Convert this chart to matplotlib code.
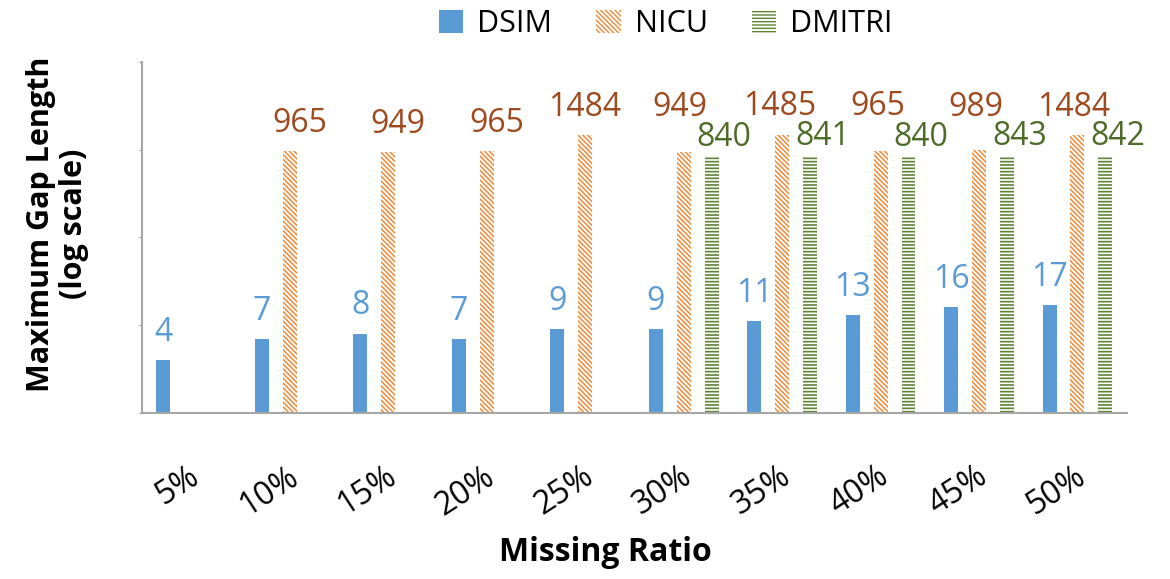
import matplotlib
matplotlib.use("Agg")
import matplotlib.pyplot as plt
import numpy as np
from matplotlib.patches import Patch

plt.rcParams['font.family'] = ['Open Sans', 'DejaVu Sans']

categories = ["5%", "10%", "15%", "20%", "25%", "30%", "35%", "40%", "45%", "50%"]
dsim = [4, 7, 8, 7, 9, 9, 11, 13, 16, 17]
nicu = [None, 965, 949, 965, 1484, 949, 1485, 965, 989, 1484]
dmitri = [None, None, None, None, None, 840, 841, 840, 843, 842]

# label nudges (points) so neighbouring labels don't collide
nicu_dx = [0, 7, 7, 7, 0, -3, -2, -2, -2, -3]
nicu_dy = [8, 8, 8, 8, 8, 20, 8, 20, 19, 8]
dmitri_dx = [9, 9, 9, 9, 9, 9, 9, 9, 9, 9]

c_dsim = "#5B9BD5"
c_nicu = "#EE8A3A"
c_nicu_txt = "#9E4A1E"
c_dmitri = "#5F8436"
c_dmitri_txt = "#4F6B28"

NICU_HATCH = "\\" * 7
DMITRI_HATCH = "-" * 5
NICU_HLW = 1.1
DMITRI_HLW = 1.2

fig = plt.figure(figsize=(11.7, 5.79), dpi=100)
ax = fig.add_axes([0.1214, 0.287, 0.963 - 0.1214, 0.893 - 0.287])

x = np.arange(len(categories))
w = 0.142
off = 0.284
lab_fs = 23


def hatched_bar(xpos, val, color, hatch, hlw):
    with plt.rc_context({"hatch.linewidth": hlw}):
        bars = ax.bar(xpos, val, width=w, facecolor="white", edgecolor=color,
                      hatch=hatch, linewidth=0)
    for b in bars:
        if hasattr(b, "set_hatch_linewidth"):
            b.set_hatch_linewidth(hlw)
    return bars


for i in range(len(categories)):
    ax.bar(x[i] - off, dsim[i], width=w, color=c_dsim, linewidth=0)
    ax.annotate(str(dsim[i]), (x[i] - off, dsim[i]), xytext=(0, 8),
                textcoords="offset points", ha="center", va="bottom",
                fontsize=lab_fs, color=c_dsim)
    if nicu[i] is not None:
        hatched_bar(x[i], nicu[i], c_nicu, NICU_HATCH, NICU_HLW)
        ax.annotate(str(nicu[i]), (x[i], nicu[i]), xytext=(nicu_dx[i], nicu_dy[i]),
                    textcoords="offset points", ha="center", va="bottom",
                    fontsize=lab_fs, color=c_nicu_txt)
    if dmitri[i] is not None:
        hatched_bar(x[i] + off, dmitri[i], c_dmitri, DMITRI_HATCH, DMITRI_HLW)
        ax.annotate(str(dmitri[i]), (x[i] + off, dmitri[i]), xytext=(dmitri_dx[i], 2),
                    textcoords="offset points", ha="center", va="bottom",
                    fontsize=lab_fs, color=c_dmitri_txt)

ax.set_yscale("log")
ax.set_ylim(1, 10000)
ax.set_xlim(-0.5, len(categories) - 0.5)
ax.set_yticks([1, 10, 100, 1000, 10000])
ax.set_yticklabels([])
ax.yaxis.set_minor_locator(matplotlib.ticker.NullLocator())
ax.tick_params(axis="y", length=2, color="#999999", direction="out")
ax.tick_params(axis="x", length=0, pad=44)
ax.set_xticks(x)
ax.set_xticklabels(categories, rotation=33, fontsize=23, ha="right", va="center",
                   rotation_mode="anchor")
for lbl in ax.get_xticklabels():
    lbl.set_transform(lbl.get_transform() + matplotlib.transforms.ScaledTranslation(
        4 / 72, 0, fig.dpi_scale_trans))

for s in ["top", "right"]:
    ax.spines[s].set_visible(False)
for s in ["left", "bottom"]:
    ax.spines[s].set_color("#A6A6A6")
    ax.spines[s].set_linewidth(1.5)

fig.text(0.517, 0.045, "Missing Ratio", ha="center", va="center",
         fontsize=23, fontweight="bold")
fig.text(0.049, 0.613, "Maximum Gap Length\n(log scale)", ha="center", va="center",
         rotation=90, fontsize=22, fontweight="bold", linespacing=1.12)

with plt.rc_context({"hatch.linewidth": NICU_HLW}):
    h_nicu = Patch(facecolor="white", edgecolor=c_nicu, hatch=NICU_HATCH, linewidth=0, label="NICU")
with plt.rc_context({"hatch.linewidth": DMITRI_HLW}):
    h_dmitri = Patch(facecolor="white", edgecolor=c_dmitri, hatch=DMITRI_HATCH, linewidth=0, label="DMITRI")
handles = [Patch(facecolor=c_dsim, edgecolor="none", label="DSIM"), h_nicu, h_dmitri]
leg = fig.legend(handles=handles, loc="center", bbox_to_anchor=(0.569, 0.958), ncol=3,
                 frameon=False, fontsize=22, handlelength=0.8, handleheight=0.8,
                 handletextpad=0.45, columnspacing=1.45)

fig.savefig("out.png", dpi=100)
